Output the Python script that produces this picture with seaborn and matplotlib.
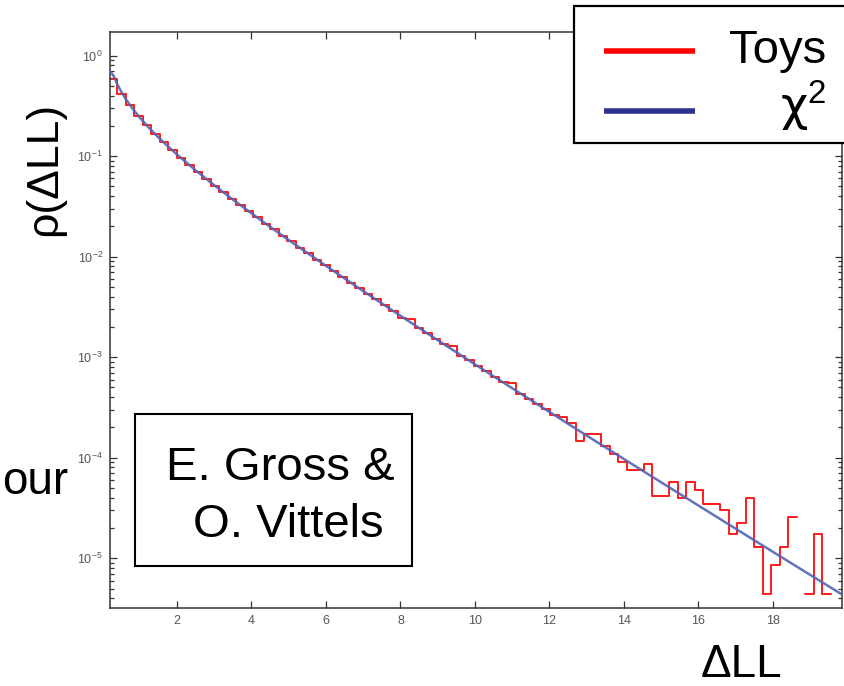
import numpy as np
import pandas as pd
import matplotlib
matplotlib.use("Agg")
import matplotlib.pyplot as plt
import seaborn as sns
from matplotlib.patches import Rectangle
from matplotlib.lines import Line2D
from matplotlib.ticker import LogLocator, FixedLocator, LogFormatterMathtext, NullFormatter, NullLocator

# ---------------- data ----------------
# Toy histogram: bins of equal width; NaN = empty bin (not drawn on log axis)
bin_start = 0.17
bin_width = 0.228
toys_density = [
    0.59, 0.42, 0.322, 0.252, 0.203, 0.165, 0.137, 0.1145, 0.0962, 0.0820,
    0.0694, 0.0598, 0.0508, 0.0441, 0.0377, 0.0329, 0.0282, 0.0247, 0.0213, 0.0187,
    0.0161, 0.0142, 0.0123, 0.0108, 0.00938, 0.00826, 0.00718, 0.00635, 0.00551, 0.00489,
    0.00424, 0.00377, 0.00328, 0.00291, 0.00245, 0.00242, 0.00197, 0.00175, 0.00152, 0.00136,
    0.00130, 0.00104, 0.000930, 0.000812, 0.000725, 0.000632, 0.000570, 0.000550, 0.000435, 0.000388,
    0.000340, 0.000303, 0.000265, 2.52e-4, 2.23e-4, 1.46e-4, 1.71e-4, 1.71e-4, 1.31e-4, 1.09e-4,
    9.0e-5, 7.5e-5, 7.5e-5, 8.6e-5, 4.15e-5, 4.15e-5, 5.7e-5, 4.0e-5, 5.7e-5, 4.8e-5,
    3.45e-5, 3.45e-5, 3.0e-5, 1.76e-5, 2.22e-5, 4.0e-5, 1.3e-5, 4.4e-6, 8.5e-6, 1.28e-5,
    2.58e-5, np.nan, 4.4e-6, 1.76e-5, 4.4e-6,
]

# chi^2 reference curve
chi2_x = [0.2, 0.3, 0.4, 0.5, 0.6, 0.8, 1.0, 1.25, 1.5, 1.75, 2.0, 2.5, 3.0, 3.5, 4.0, 4.5,
          5, 6, 7, 8, 9, 10, 11, 12, 13, 14, 15, 16, 17, 18, 19, 19.85]
chi2_y = [0.70, 0.627, 0.516, 0.439, 0.3815, 0.299, 0.242, 0.191, 0.1539, 0.1257, 0.1038, 0.0723,
          0.0514, 0.03705, 0.0270, 0.01982, 0.01465, 0.00811, 0.00455, 0.002584, 0.001478,
          0.000850, 0.000492, 0.0002855, 0.0001663, 9.72e-5, 5.70e-5, 3.35e-5, 1.97e-5,
          1.160e-5, 6.85e-6, 4.38e-6]

x_ticks = [2, 4, 6, 8, 10, 12, 14, 16, 18]
legend_labels = ["Toys", "χ$^{2}$"]

# ---------------- style ----------------
sns.set_theme(style="ticks")
plt.rcParams["font.family"] = ["Liberation Sans", "DejaVu Sans"]
plt.rcParams["mathtext.fontset"] = "custom"
plt.rcParams["mathtext.rm"] = "Liberation Sans"
plt.rcParams["mathtext.it"] = "Liberation Sans:italic"
plt.rcParams["mathtext.bf"] = "Liberation Sans:bold"
plt.rcParams["text.color"] = "black"

W, H = 845, 686
def fx(x):
    return x / W
def fy(y):
    return 1 - y / H

fig = plt.figure(figsize=(W / 100, H / 100), dpi=100)
fig.patch.set_facecolor("white")
ax = fig.add_axes([fx(110), fy(608), (841.7 - 110) / W, (608 - 32) / H])
ax.set_facecolor("white")

# Toys histogram drawn as steps, one run per contiguous block of non-empty bins
vals = np.array(toys_density, dtype=float)
edges = bin_start + bin_width * np.arange(len(vals) + 1)
runs = []
i = 0
while i < len(vals):
    if np.isnan(vals[i]):
        i += 1
        continue
    j = i
    while j < len(vals) and not np.isnan(vals[j]):
        j += 1
    runs.append((i, j))
    i = j
for (i0, i1) in runs:
    run_df = pd.DataFrame({
        "x": edges[i0:i1 + 1],
        "y": np.append(vals[i0:i1], vals[i1 - 1]),
    })
    sns.lineplot(data=run_df, x="x", y="y", ax=ax, color="#ff1a1a", lw=1.4,
                 drawstyle="steps-post", estimator=None, sort=False, zorder=2)

chi_df = pd.DataFrame({"x": chi2_x, "y": chi2_y})
sns.lineplot(data=chi_df, x="x", y="y", ax=ax, color="#5364b6", lw=1.8,
             estimator=None, sort=False, alpha=0.9, zorder=3)

ax.set_yscale("log")
ax.set_xlim(0.2, 19.85)
ax.set_ylim(3.2e-6, 1.72)
ax.set_xlabel("")
ax.set_ylabel("")

ax.xaxis.set_major_locator(FixedLocator(x_ticks))
ax.xaxis.set_minor_locator(NullLocator())
ax.yaxis.set_major_locator(LogLocator(base=10, numticks=20))
ax.yaxis.set_minor_locator(LogLocator(base=10, subs=np.arange(2, 10), numticks=20))
ax.yaxis.set_major_formatter(LogFormatterMathtext())
ax.yaxis.set_minor_formatter(NullFormatter())

ax.tick_params(which="both", direction="in", top=True, right=True, color="#333333", width=0.9)
ax.tick_params(which="major", length=5, labelsize=9, labelcolor="#555555", pad=5)
ax.tick_params(which="minor", length=3)
for s in ax.spines.values():
    s.set_color("#333333")
    s.set_linewidth(1.1)
    s.set_visible(True)

# ---------------- annotations ----------------
fig.text(fx(45), fy(169), "ρ(ΔLL)", rotation=90, ha="center", va="center", fontsize=32, color="black")
fig.text(fx(741), fy(677), "ΔLL", ha="center", va="baseline", fontsize=33, color="black")
fig.text(fx(2), fy(494), "our", ha="left", va="baseline", fontsize=33, color="black")

# author box
fig.add_artist(Rectangle((fx(135), fy(565.7)), (412 - 135) / W, (565.7 - 414.3) / H,
                         transform=fig.transFigure, facecolor="white", edgecolor="black",
                         lw=1.5, zorder=5))
fig.text(fx(280), fy(480), "E. Gross &", ha="center", va="baseline", fontsize=34, color="black", zorder=6)
fig.text(fx(288), fy(537), "O. Vittels", ha="center", va="baseline", fontsize=34, color="black", zorder=6)

# legend box
fig.add_artist(Rectangle((fx(574), fy(142.7)), (880 - 574) / W, (142.7 - 6) / H,
                         transform=fig.transFigure, facecolor="white", edgecolor="black",
                         lw=1.6, zorder=7))
legend_colors = ["#ff0000", "#2e3192"]
legend_line_y = [51, 111]
legend_text_y = [63.3, 121]
legend_fonts = [["Liberation Sans", "DejaVu Sans"], ["DejaVu Sans"]]
for lab, col, ly, ty, fam in zip(legend_labels, legend_colors, legend_line_y, legend_text_y, legend_fonts):
    fig.add_artist(Line2D([fx(604), fx(695)], [fy(ly), fy(ly)], transform=fig.transFigure,
                          color=col, lw=4, solid_capstyle="butt", zorder=8))
    fig.text(fx(826), fy(ty), lab, ha="right", va="baseline", fontsize=34, color="black",
             family=fam, zorder=8)

fig.savefig("out.png", dpi=100, facecolor="white")
